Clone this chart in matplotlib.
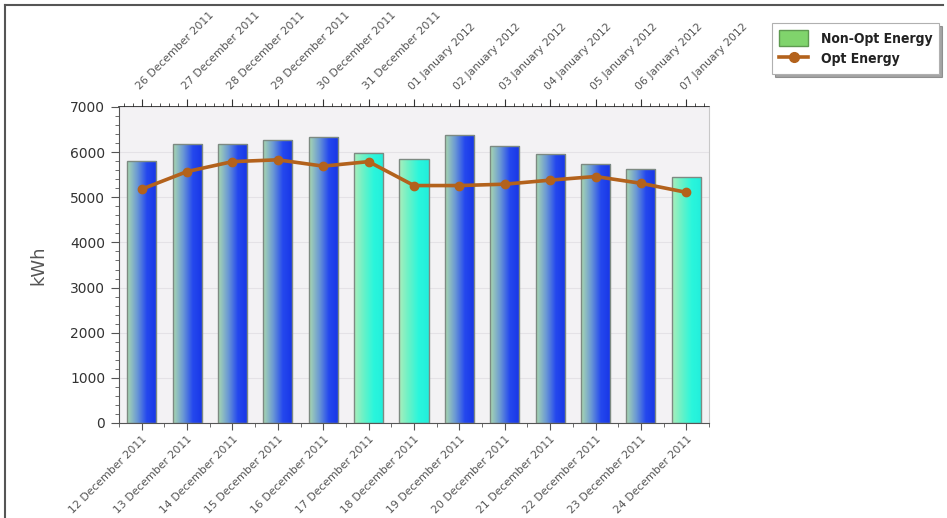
"""Non-Opt vs Opt energy, daily bars with a second date axis on top."""
import numpy as np
import pandas as pd
import matplotlib
matplotlib.use('Agg')
import matplotlib.pyplot as plt
from matplotlib.colors import LinearSegmentedColormap
from matplotlib.lines import Line2D
from matplotlib.patches import Patch
from matplotlib.ticker import AutoMinorLocator, MultipleLocator

# --- Data ---
bottom_dates = ['12 December 2011', '13 December 2011', '14 December 2011',
                '15 December 2011', '16 December 2011', '17 December 2011',
                '18 December 2011', '19 December 2011', '20 December 2011',
                '21 December 2011', '22 December 2011', '23 December 2011',
                '24 December 2011']
top_dates = ['26 December 2011', '27 December 2011', '28 December 2011',
             '29 December 2011', '30 December 2011', '31 December 2011',
             '01 January 2012', '02 January 2012', '03 January 2012',
             '04 January 2012', '05 January 2012', '06 January 2012',
             '07 January 2012']
non_opt = [5800, 6180, 6190, 6280, 6340, 5970, 5840, 6380, 6130, 5960, 5740, 5630, 5460]
opt = [5180, 5570, 5790, 5830, 5690, 5790, 5260, 5260, 5290, 5380, 5460, 5310, 5110]

# weekend bars get the green/cyan gradient, weekdays green/blue
weekend = pd.to_datetime(bottom_dates, format='%d %B %Y').dayofweek >= 5

blue_cmap = LinearSegmentedColormap.from_list('b', ['#a8d8b0', '#6c9ad4', '#2448ee', '#1836e6'])
cyan_cmap = LinearSegmentedColormap.from_list('c', ['#aaeebb', '#66f2c8', '#2af6dc', '#22eedc'])

W, H = 947, 518
fig = plt.figure(figsize=(W / 100, H / 100), dpi=100, facecolor='white')
ax = fig.add_axes([119 / W, 1 - 423 / H, 590 / W, 316 / H])
ax.set_facecolor('#f3f2f4')

x = np.arange(len(non_opt))
bar_w = 0.64
bars = ax.bar(x, non_opt, width=bar_w, facecolor='none', edgecolor='#7d8a82',
              linewidth=1.0, zorder=3)
grad = np.linspace(0, 1, 64).reshape(1, -1)
for b, wk in zip(bars, weekend):
    x0, w, h = b.get_x(), b.get_width(), b.get_height()
    im = ax.imshow(grad, cmap=cyan_cmap if wk else blue_cmap, aspect='auto',
                   extent=[x0, x0 + w, 0, h], zorder=2, interpolation='bilinear')
    im.set_clip_path(b)

ax.plot(x, opt, color='#b3621c', linewidth=2.6, marker='o', markersize=6,
        zorder=4)

ax.set_xlim(-0.5, len(x) - 0.5)
ax.set_ylim(0, 7000)
ax.yaxis.set_major_locator(MultipleLocator(1000))
ax.yaxis.set_minor_locator(AutoMinorLocator(5))
ax.grid(axis='y', color='#e4e2e6', linewidth=0.8, zorder=0)

ax.set_xticks(x)
ax.set_xticklabels(bottom_dates, rotation=45, ha='right', rotation_mode='anchor',
                   fontsize=7.8, color='#555555')
ax.xaxis.set_minor_locator(AutoMinorLocator(2))
ax.tick_params(axis='x', which='major', length=5, color='#555555', pad=3)
ax.tick_params(axis='x', which='minor', length=3, color='#555555')
ax.tick_params(axis='y', which='major', length=6, color='#555555', labelsize=10,
               labelcolor='#333333', pad=4)
ax.tick_params(axis='y', which='minor', length=3, color='#555555')
ax.set_ylabel('kWh', fontsize=13, color='#555555', labelpad=16)

for side in ['left', 'bottom']:
    ax.spines[side].set_color('#555555')
ax.spines['right'].set_color('#c8c8c8')
ax.spines['top'].set_visible(False)

top = ax.secondary_xaxis('top')
top.set_xticks(x)
top.set_xticklabels(top_dates, rotation=45, ha='left', rotation_mode='anchor',
                    fontsize=7.8, color='#555555')
top.xaxis.set_minor_locator(AutoMinorLocator(5))
top.tick_params(which='major', length=6, color='#333333', pad=5)
top.tick_params(which='minor', length=3, color='#333333')
top.spines['top'].set_color('#222222')
top.spines['top'].set_linewidth(1.2)

# legend
handles = [Patch(facecolor='#80d46c', edgecolor='#5e9a50', label='Non-Opt Energy'),
           Line2D([], [], color='#b3621c', linewidth=2.6, marker='o', markersize=7,
                  label='Opt Energy')]
leg = fig.legend(handles=handles, loc='upper left',
                 bbox_to_anchor=(772 / W, 1 - 23 / H), borderaxespad=0,
                 frameon=True, fancybox=False, shadow=True, edgecolor='#b0b0b0',
                 prop={'weight': 'bold', 'size': 10, 'stretch': 'condensed'},
                 handlelength=2.1, handleheight=1.4, handletextpad=0.9,
                 borderpad=0.5, labelspacing=0.35)
leg.get_frame().set_linewidth(0.8)
for t in leg.get_texts():
    t.set_color('#222222')

# outer frame of the screenshot
fig.add_artist(Line2D([5 / W, 5 / W], [0, 1 - 5 / H], color='#555555', linewidth=1.5))
fig.add_artist(Line2D([5 / W, 943 / W], [1 - 5 / H, 1 - 5 / H], color='#555555', linewidth=1.5))

fig.savefig('out.png', dpi=100, facecolor='white')
